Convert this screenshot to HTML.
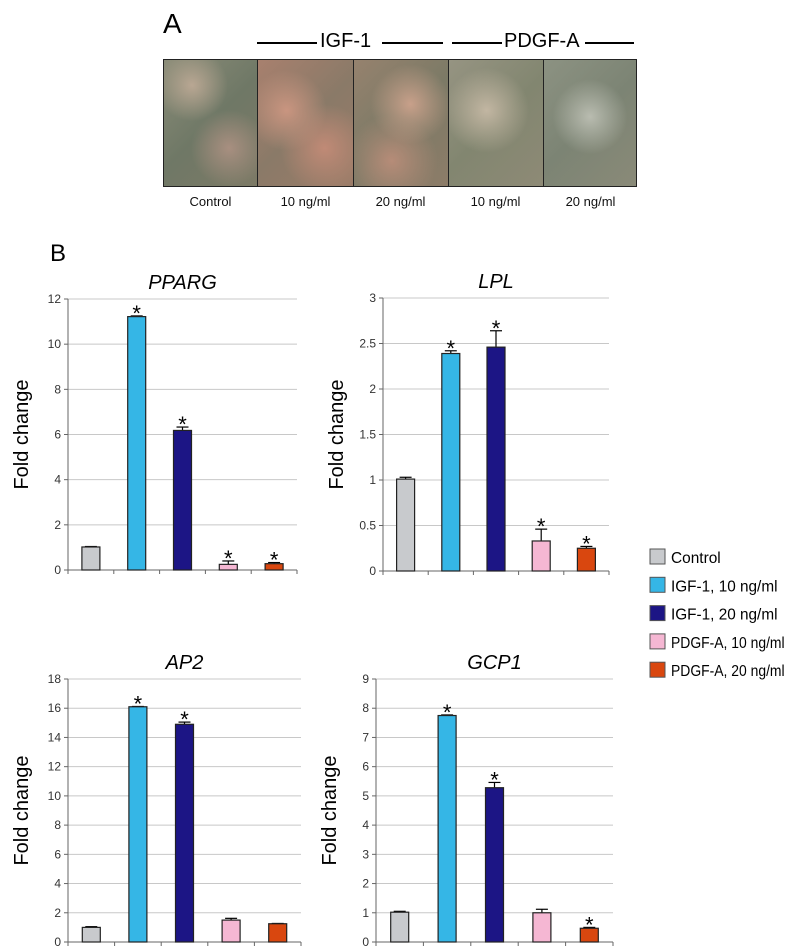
<!DOCTYPE html>
<html><head><meta charset="utf-8"><style>
html,body{margin:0;padding:0;background:#fff;width:800px;height:946px;overflow:hidden;font-family:"Liberation Sans",sans-serif;}
.abs{position:absolute}
.micro{position:absolute;top:59px;height:128px;border:1px solid #222;box-sizing:border-box;}
.lab{position:absolute;top:194px;font-size:13px;color:#111;text-align:center;width:95px}
</style></head><body>
<div class="abs" style="left:163px;top:8px;font-size:28px;">A</div>
<div class="abs" style="left:257px;top:42px;width:60px;height:2px;background:#000"></div>
<div class="abs" style="left:320px;top:30px;font-size:20px;">IGF-1</div>
<div class="abs" style="left:382px;top:42px;width:61px;height:2px;background:#000"></div>
<div class="abs" style="left:452px;top:42px;width:50px;height:2px;background:#000"></div>
<div class="abs" style="left:504px;top:30px;font-size:20px;">PDGF-A</div>
<div class="abs" style="left:585px;top:42px;width:49px;height:2px;background:#000"></div>

<div class="micro" style="left:163px;width:95px;background:radial-gradient(circle at 30% 20%,#b9a793 0,transparent 30%),radial-gradient(circle at 70% 70%,#a88f80 0,transparent 35%),linear-gradient(135deg,#8a8c78,#6f7866 50%,#7d7a66)"></div>
<div class="micro" style="left:257px;width:97px;background:radial-gradient(circle at 30% 40%,#c99580 0,transparent 40%),radial-gradient(circle at 70% 70%,#c08a76 0,transparent 40%),linear-gradient(135deg,#a8806e,#8a7a68 50%,#9b7c68)"></div>
<div class="micro" style="left:353px;width:96px;background:radial-gradient(circle at 60% 35%,#c8a08a 0,transparent 40%),radial-gradient(circle at 40% 80%,#b68c78 0,transparent 40%),linear-gradient(135deg,#96826e,#7c7a66 50%,#8d7c68)"></div>
<div class="micro" style="left:448px;width:96px;background:radial-gradient(circle at 40% 40%,#c2b6a2 0,transparent 45%),linear-gradient(135deg,#969482,#828670 50%,#8e8a76)"></div>
<div class="micro" style="left:543px;width:94px;background:radial-gradient(circle at 50% 45%,#b9bcb0 0,transparent 45%),linear-gradient(135deg,#8c9282,#7c8474 50%,#8a8a78)"></div>
<div class="lab" style="left:163px">Control</div>
<div class="lab" style="left:258px">10 ng/ml</div>
<div class="lab" style="left:353px">20 ng/ml</div>
<div class="lab" style="left:448px">10 ng/ml</div>
<div class="lab" style="left:543px">20 ng/ml</div>
<div class="abs" style="left:50px;top:240px;font-size:24px;">B</div>

<svg id="charts" class="abs" style="left:0;top:0" width="800" height="946"></svg>

<script>
const categories = ["Control","IGF-1, 10 ng/ml","IGF-1, 20 ng/ml","PDGF-A, 10 ng/ml","PDGF-A, 20 ng/ml"];
const colors = ["#c8cacd","#35b6e6","#1c1585","#f5b7d3","#d9470f"];
const ppargValues = [1.02, 11.22, 6.18, 0.25, 0.28];
const ppargErrors = [0.02, 0.03, 0.15, 0.15, 0.05];
const ppargStars = [0,1,1,1,1];
const ppargTicks = ["0","2","4","6","8","10","12"];
const lplValues = [1.01, 2.39, 2.46, 0.33, 0.25];
const lplErrors = [0.02, 0.03, 0.18, 0.13, 0.02];
const lplStars = [0,1,1,1,1];
const lplTicks = ["0","0.5","1","1.5","2","2.5","3"];
const ap2Values = [1.0, 16.1, 14.9, 1.5, 1.25];
const ap2Errors = [0.05, 0.02, 0.15, 0.12, 0.02];
const ap2Stars = [0,1,1,0,0];
const ap2Ticks = ["0","2","4","6","8","10","12","14","16","18"];
const gcp1Values = [1.02, 7.75, 5.28, 1.0, 0.47];
const gcp1Errors = [0.03, 0.02, 0.18, 0.12, 0.03];
const gcp1Stars = [0,1,1,0,1];
const gcp1Ticks = ["0","1","2","3","4","5","6","7","8","9"];

const svg = document.getElementById('charts');
const NS = "http://www.w3.org/2000/svg";
function mk(tag, attrs, parent){
  const e = document.createElementNS(NS, tag);
  for (const k in attrs) e.setAttribute(k, attrs[k]);
  (parent||svg).appendChild(e); return e;
}
function chart(key, title, values, errors, stars, ticks, box){
  const g = mk('g', {});
  
  
  const max = parseFloat(ticks[ticks.length-1]);
  const y = v => box.y1 - (v / max) * (box.y1 - box.y0);
  const slot = (box.x1 - box.x0) / values.length;
  const xc = i => box.x0 + slot * (i + 0.5);
  ticks.forEach(t => {
    const ty = y(parseFloat(t));
    const gl = mk('line', {x1: box.x0, x2: box.x1, y1: ty, y2: ty, stroke: parseFloat(t) === 0 ? '#666' : '#c8c8c8', 'stroke-width': 1}, g);
    
    
    mk('line', {x1: box.x0 - 4, x2: box.x0, y1: ty, y2: ty, stroke: '#666'}, g);
    const tl = mk('text', {x: box.x0 - 7, y: ty + 4, 'text-anchor': 'end', 'font-size': 12, fill: '#333', 'font-family': 'Liberation Sans, sans-serif'}, g);
    tl.textContent = t;
    
    
  });
  mk('line', {x1: box.x0, x2: box.x0, y1: box.y0, y2: box.y1 + 4, stroke: '#666'}, g);
  for (let i = 0; i <= values.length; i++) {
    const tx = box.x0 + slot * i;
    mk('line', {x1: tx, x2: tx, y1: box.y1, y2: box.y1 + 4, stroke: '#666'}, g);
  }
  values.forEach((v, i) => {
    const bw = 18, top = y(v);
    const eTop = y(v + errors[i]);
    mk('line', {x1: xc(i), x2: xc(i), y1: top, y2: eTop, stroke: '#000', 'stroke-width': 1.2}, g);
    mk('line', {x1: xc(i) - 6, x2: xc(i) + 6, y1: eTop, y2: eTop, stroke: '#000', 'stroke-width': 1.2}, g);
    const b = mk('rect', {x: xc(i) - bw/2, y: top, width: bw, height: box.y1 - top, fill: colors[i], stroke: '#222', 'stroke-width': 1.2}, g);
    
    
    if (stars[i]) {
      const s = mk('text', {x: xc(i), y: eTop + 5, 'text-anchor': 'middle', 'font-size': 22, 'font-family': 'Liberation Sans, sans-serif'}, g);
      s.textContent = '*';
      
      
    }
  });
  const tt = mk('text', {x: (box.x0 + box.x1) / 2, y: box.y0 - 10, 'text-anchor': 'middle', 'font-size': 20, 'font-style': 'italic', 'font-family': 'Liberation Sans, sans-serif'}, g);
  tt.textContent = title;
  
  
  const cy = (box.y0 + box.y1) / 2, cx = box.x0 - 40;
  const yt = mk('text', {x: cx, y: cy, 'text-anchor': 'middle', 'font-size': 20, transform: 'rotate(-90 ' + cx + ' ' + cy + ')', 'font-family': 'Liberation Sans, sans-serif'}, g);
  yt.textContent = 'Fold change';
  
  
}
chart('pparg', 'PPARG', ppargValues, ppargErrors, ppargStars, ppargTicks, {x0: 68, x1: 297, y0: 299, y1: 570});
chart('lpl', 'LPL', lplValues, lplErrors, lplStars, lplTicks, {x0: 383, x1: 609, y0: 298, y1: 571});
chart('ap2', 'AP2', ap2Values, ap2Errors, ap2Stars, ap2Ticks, {x0: 68, x1: 301, y0: 679, y1: 942});
chart('gcp1', 'GCP1', gcp1Values, gcp1Errors, gcp1Stars, gcp1Ticks, {x0: 376, x1: 613, y0: 679, y1: 942});

categories.forEach((c, i) => {
  const ly = 549 + i * 28.3;
  const r = mk('rect', {x: 650, y: ly, width: 15, height: 15, fill: colors[i], stroke: '#555'});
  
  
  const t = mk('text', {x: 671, y: ly + 14, 'font-size': 16, 'font-family': 'Liberation Sans, sans-serif', textLength: c.length * 7.1, lengthAdjust: 'spacingAndGlyphs'});
  t.textContent = c;
  
  
});
</script>
</body></html>
